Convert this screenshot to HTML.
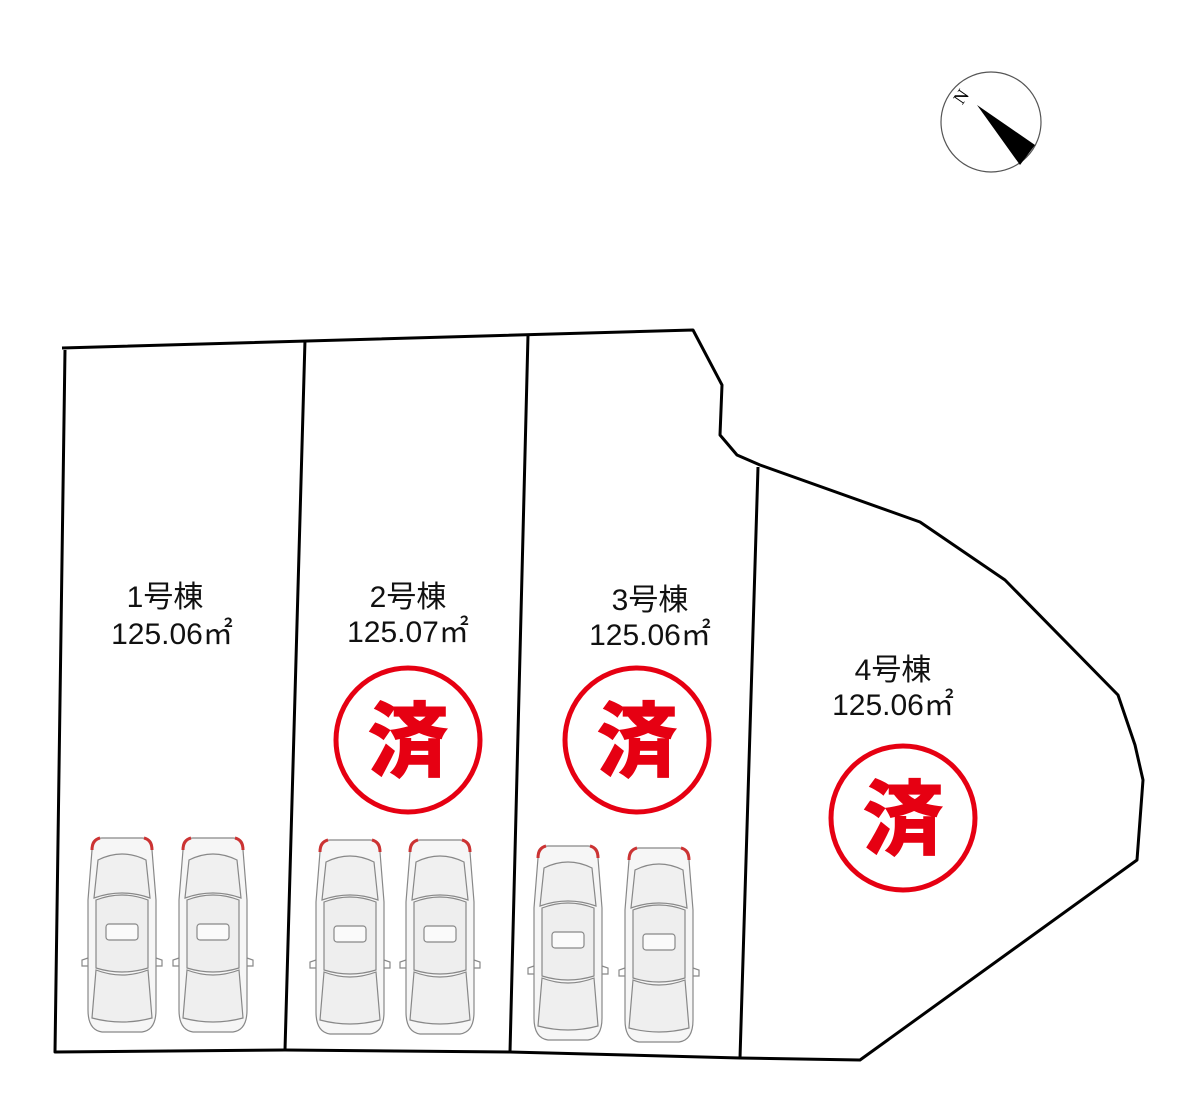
<!DOCTYPE html>
<html><head><meta charset="utf-8"><style>
body{margin:0;background:#fff;width:1200px;height:1112px;overflow:hidden}
svg{display:block}
.t{font-family:"Liberation Sans","Noto Sans CJK JP",sans-serif;font-size:30px;fill:#111;text-anchor:middle}
.s{font-family:"Noto Sans CJK JP",sans-serif;font-size:82px;font-weight:900;fill:#e60012;text-anchor:middle}
</style></head><body>
<svg width="1200" height="1112" viewBox="0 0 1200 1112">
<defs>
<g id="car" fill="#f6f6f6" stroke="#888" stroke-width="1.2">
<path d="M-30,10 Q-32,-2 -20,-2 L20,-2 Q32,-2 30,10 L34,60 L34,170 Q34,190 20,192 L-20,192 Q-34,190 -34,170 L-34,60 Z"/>
<path d="M-24,20 Q0,8 24,20 L28,58 Q0,48 -28,58 Z" fill="#f0f0f0"/>
<path d="M-26,60 Q0,50 26,60 L26,128 Q0,136 -26,128 Z" fill="#eee"/>
<rect x="-16" y="84" width="32" height="16" rx="3" fill="#fafafa"/>
<path d="M-26,130 Q0,140 26,130 L30,178 Q0,186 -30,178 Z" fill="#efefef"/>
<path d="M-34,118 L-40,120 L-40,126 L-34,126 M34,118 L40,120 L40,126 L34,126" fill="none"/>
<path d="M-30,10 Q-30,0 -22,-2" stroke="#c33" stroke-width="3" fill="none"/>
<path d="M30,10 Q30,0 22,-2" stroke="#c33" stroke-width="3" fill="none"/>
</g>
</defs>
<g fill="none" stroke="#000" stroke-width="3" stroke-linejoin="round">
<path d="M62,348 L693,330 L722,385 L720,435 L737,455 L760,465 L920,522 L1005,580 L1118,695 L1135,745 L1143,780 L1137,860 L860,1060 L740,1058 L510,1052 L285,1050 L55,1052 L65,350"/>
<path d="M305,340 L285,1050 M528,335 L510,1052 M758,467 L740,1058"/>
</g>
<g>
<use href="#car" x="122" y="840"/><use href="#car" x="213" y="840"/>
<use href="#car" x="350" y="842"/><use href="#car" x="440" y="842"/>
<use href="#car" x="568" y="848"/><use href="#car" x="659" y="850"/>
</g>
<text class="t" x="165" y="607">1号棟</text><text class="t" x="172" y="644">125.06㎡</text>
<text class="t" x="408" y="607">2号棟</text><text class="t" x="408" y="642">125.07㎡</text>
<text class="t" x="650" y="610">3号棟</text><text class="t" x="650" y="645">125.06㎡</text>
<text class="t" x="893" y="680">4号棟</text><text class="t" x="893" y="715">125.06㎡</text>
<g fill="#fff" stroke="#e60012" stroke-width="5">
<circle cx="408" cy="740" r="72"/><circle cx="637" cy="740" r="72"/><circle cx="903" cy="818" r="72"/>
</g>
<text class="s" x="408" y="770">済</text><text class="s" x="637" y="770">済</text><text class="s" x="903" y="848">済</text>
<circle cx="991" cy="122" r="50" fill="none" stroke="#555" stroke-width="1.2"/>
<path d="M977,105 L1035,145 L1020,165 Z" fill="#000"/>
<text x="966" y="100" font-family="Liberation Serif,serif" font-size="18" transform="rotate(-55 966 100)" text-anchor="middle">N</text>
</svg>
</body></html>
